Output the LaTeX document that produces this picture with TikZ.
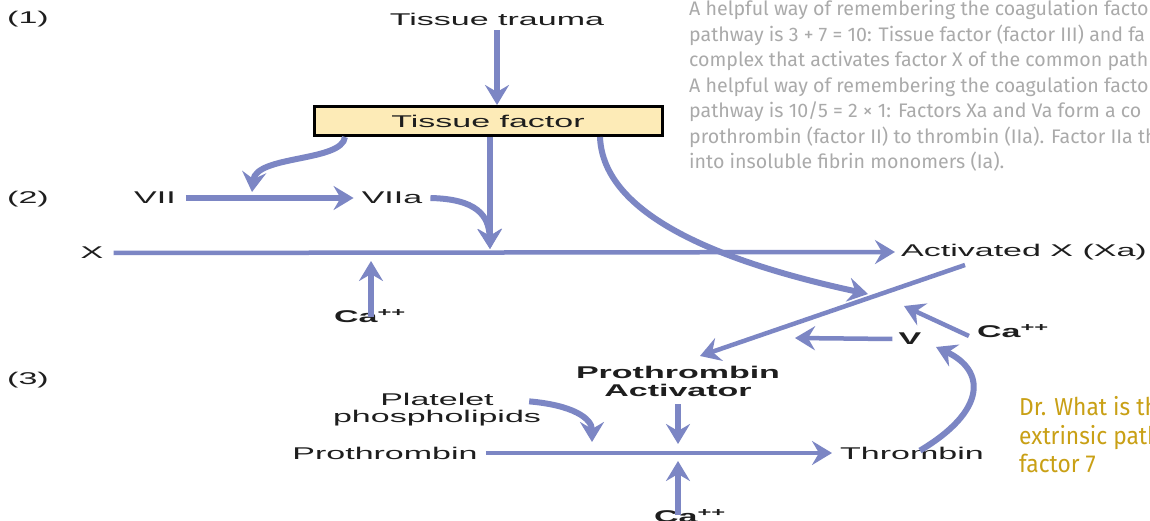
\documentclass[tikz,border=0pt]{standalone}
\usepackage{fontspec}
\usetikzlibrary{arrows.meta}
\newfontfamily\dia[FakeStretch=2.0]{Liberation Sans}
\newfontfamily\gfont{Fira Sans}
\newfontfamily\yfont[FakeStretch=0.93]{Fira Sans}
\definecolor{ablue}{RGB}{124,134,196}
\definecolor{boxfill}{RGB}{253,235,183}
\definecolor{txtgray}{RGB}{170,170,170}
\definecolor{txtyellow}{RGB}{201,160,21}
\definecolor{dtext}{RGB}{30,30,30}
\tikzset{
  lbl/.style={inner sep=0pt, text=dtext, font=\dia\fontsize{17}{19}\selectfont},
  blbl/.style={lbl, font=\dia\bfseries\fontsize{17}{19}\selectfont},
  arr/.style={draw=ablue, line width=6pt, -{Stealth[length=20pt,width=24pt,inset=7pt]}},
  thin arr/.style={arr, line width=4.5pt},
  gline/.style={anchor=base west, inner sep=0pt, text=txtgray, font=\gfont\fontsize{19.6}{22}\selectfont},
  yline/.style={anchor=base west, inner sep=0pt, text=txtyellow, font=\yfont\fontsize{24.5}{28}\selectfont},
  tfbox/.style={draw=black, line width=3pt, fill=boxfill, minimum width=348pt, minimum height=29pt, inner sep=0pt, text=dtext, font=\dia\fontsize{17}{19}\selectfont}
}
\begin{document}
\begin{tikzpicture}[x=1pt,y=-1pt]
\useasboundingbox (0,0) rectangle (1150,521);
\clip (0,0) rectangle (1150,521);
\fill[white] (0,0) rectangle (1150,521);

% explanatory text
\node[gline] (g1) at (689,16) {A helpful way of remembering the coagulation factor};
\node[gline] (g2) at (689,41.5) {pathway is 3 + 7 = 10: Tissue factor (factor III) and fa};
\node[gline] (g3) at (689,67) {complex that activates factor X of the common path};
\node[gline] (g4) at (689,92.5) {A helpful way of remembering the coagulation factor};
\node[gline] (g5) at (689,118) {pathway is 10/5 = 2 × 1: Factors Xa and Va form a co};
\node[gline] (g6) at (689,143.5) {prothrombin (factor II) to thrombin (IIa). Factor IIa the};
\node[gline] (g7) at (689,169) {into insoluble fibrin monomers (Ia).};

\node[yline] (y1) at (1019,415) {Dr. What is the};
\node[yline] (y2) at (1019,444) {extrinsic path};
\node[yline] (y3) at (1019,472) {factor 7};

% step numbers
\node[lbl] (s1) at (28,19) {(1)};
\node[lbl] (s2) at (28,199) {(2)};
\node[lbl] (s3) at (28,380) {(3)};

% nodes
\node[lbl] (trauma) at (497,19) {Tissue trauma};
\node[tfbox] (tf) at (488,121) {Tissue factor};
\node[lbl] (vii) at (155,198) {VII};
\node[lbl] (viia) at (392,198) {VIIa};
\node[lbl] (x) at (92,253) {X};
\node[lbl] (xa) at (1024,252) {Activated X (Xa)};
\node[blbl] (ca1) at (370,316) {Ca\textsuperscript{++}};
\node[blbl] (ca2) at (1013,331) {Ca\textsuperscript{++}};
\node[blbl] (v) at (910,339) {V};
\node[blbl, align=center] (pa) at (678,381) {Prothrombin\\[-1pt]Activator};
\node[lbl, align=center] (pp) at (437,410) {Platelet\\[-2pt]phospholipids};
\node[lbl] (pro) at (385,453) {Prothrombin};
\node[lbl] (thr) at (912,453) {Thrombin};
\node[blbl] (ca3) at (690,516) {Ca\textsuperscript{++}};

% junction coordinates
\coordinate (jtf) at (490,249);
\coordinate (jvii) at (252,192);
\coordinate (jca1) at (371,261);
\coordinate (jcross) at (868,294);
\coordinate (xas) at (965,265);
\coordinate (pact) at (700,356);
\coordinate (jca2) at (904,306);
\coordinate (vend) at (795,338);
\coordinate (vtip) at (936,347);
\coordinate (jpp) at (592,442);
\coordinate (jpa) at (678,444);
\coordinate (jca3) at (678,461);

% connectors
\draw[arr] (trauma.south) ++(0,5) -- (trauma.south |- tf.north);
\draw[arr] (tf.south -| jtf) -- (jtf);
\draw[arr] ([xshift=-143pt]tf.south) .. controls ++(-3,25) and (256,155) .. (jvii);
\draw[arr] ([xshift=10pt]vii.east) -- ([xshift=-8pt]viia.west);
\draw[arr] ([xshift=8pt]viia.east) .. controls (476,199) and (489,215) .. (jtf);
\draw[thin arr] ([xshift=10pt]x.east) -- ([xshift=-6pt]xa.west);
\draw[arr] ([yshift=-8pt]ca1.north -| jca1) -- (jca1);
\draw[arr] ([xshift=112pt]tf.south) .. controls (603,215) and (720,262) .. (jcross);
\draw[thin arr] (xas) -- (pact);
\draw[thin arr] ([xshift=-8pt,yshift=-5pt]ca2.west) -- (jca2);
\draw[thin arr] ([xshift=-6pt]v.west) -- (vend);
\draw[arr] ([xshift=8pt,yshift=-4pt]thr.north) .. controls (988,410) and (985,370) .. (vtip);
\draw[arr] ([xshift=-12pt,yshift=-8pt]pp.north east) .. controls (572,405) and (592,418) .. (jpp);
\draw[arr] ([yshift=-8pt]pa.south) -- (jpa);
\draw[thin arr] ([xshift=8pt]pro.east) -- ([xshift=-8pt]thr.west);
\draw[arr] ([yshift=-6pt]ca3.north -| jca3) -- (jca3);
\end{tikzpicture}
\end{document}
